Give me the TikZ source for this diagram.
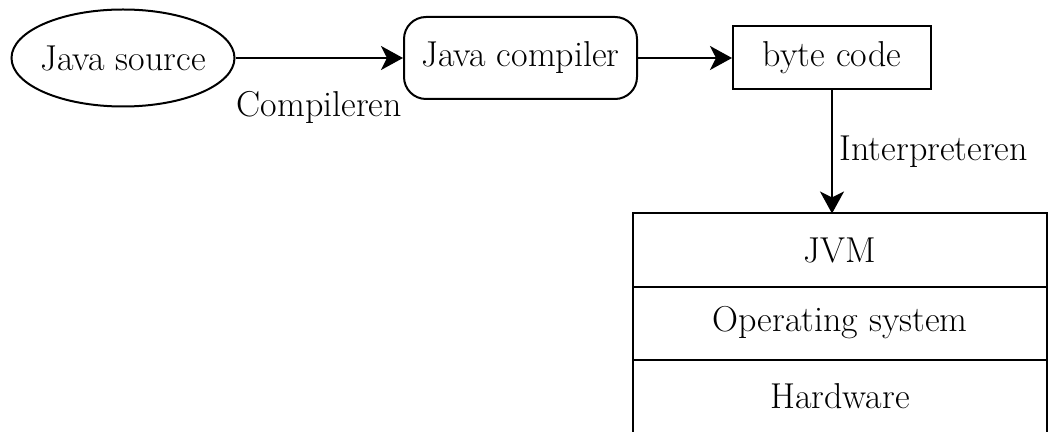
\documentclass[tikz,border=0pt]{standalone}
\usetikzlibrary{positioning}
\usetikzlibrary{shapes.geometric, arrows.meta}

\begin{document}
\begin{tikzpicture}[->,>={Stealth[length=11pt,width=12pt,inset=3pt]},auto,
                x=0.5pt,y=-0.5pt,line width=1pt,
                every node/.style={font=\fontsize{18}{21}\selectfont},
                src node/.style={ellipse,draw,minimum width=111.5pt,minimum height=48.5pt,inner xsep=-2pt,inner ysep=0pt},
                tool node/.style={rectangle,draw,rounded corners=11pt,minimum width=116.5pt,minimum height=41pt},
                code node/.style={rectangle,draw,minimum width=99pt,minimum height=31.5pt},
                layer node/.style={rectangle,draw,minimum width=207pt,minimum height=36.5pt,outer sep=0pt}]

  \useasboundingbox (0,0) rectangle (1052,432);

  \node[src node] (source) at (123,58) {Java source};
  \node[tool node] (compiler) at (520.5,58) {Java compiler};
  \node[code node] (bytecode) at (832,58) {byte code};
  \node[layer node] (jvm) at (840,250) {JVM};
  \node[layer node] (os) [below=0pt of jvm] {Operating system};
  \node[layer node] (hw) [below=0pt of os] {Hardware};

  \path
    (source) edge node[below=13pt] {Compileren} (compiler)
    (compiler) edge (bytecode)
    (bytecode.south) edge node[right] {Interpreteren} (bytecode.south |- jvm.north);
\end{tikzpicture}
\end{document}
